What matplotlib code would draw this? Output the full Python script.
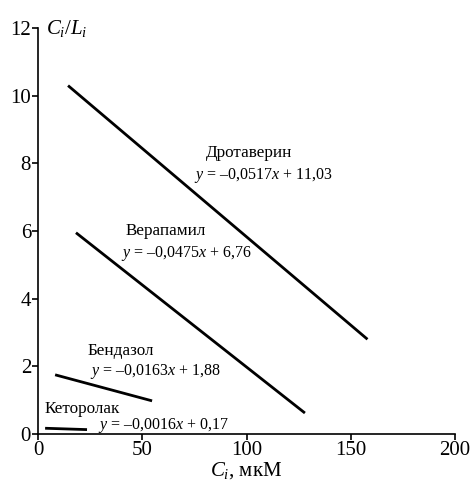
import matplotlib
matplotlib.use('Agg')
import matplotlib.pyplot as plt

plt.rcParams['font.family'] = 'Liberation Serif'
plt.rcParams['mathtext.fontset'] = 'custom'
plt.rcParams['mathtext.rm'] = 'Liberation Serif'
plt.rcParams['mathtext.it'] = 'Liberation Serif:italic'

# названия препаратов и коэффициенты уравнений
drugs = ['Дротаверин', 'Верапамил', 'Бендазол', 'Кеторолак']
slopes = ['0,0517', '0,0475', '0,0163', '0,0016']
intercepts = ['11,03', '6,76', '1,88', '0,17']
# концы отрезков (Ci, Ci/Li)
x_start = [14.4, 18.2, 8.2, 3.4]
x_end = [158.0, 128.0, 54.7, 23.5]
y_start = [10.30, 5.95, 1.75, 0.17]
y_end = [2.80, 0.62, 0.98, 0.13]

# положения подписей (в единицах данных)
name_pos = [(80.5, 8.3), (42, 6.0), (24, 2.45), (3, 0.75)]
eq_pos = [(75, 7.65), (40, 5.35), (25, 1.85), (29, 0.25)]

fig = plt.figure(figsize=(4.77, 4.84), dpi=100)
ax = fig.add_axes([0.0797, 0.1033, 0.8743, 0.8387])

for i in range(len(drugs)):
    ax.plot([x_start[i], x_end[i]], [y_start[i], y_end[i]], color='black', lw=2.0,
            solid_capstyle='butt')
    ax.text(name_pos[i][0], name_pos[i][1], drugs[i], fontsize=12.3, va='center', ha='left')
    eq = r'$y$ = –' + slopes[i] + r'$x$ + ' + intercepts[i]
    ax.text(eq_pos[i][0], eq_pos[i][1], eq, fontsize=11.5, va='center', ha='left')

ax.set_xlim(0, 200)
ax.set_ylim(0, 12)
ax.set_xticks([0, 50, 100, 150, 200])
ax.set_yticks([0, 2, 4, 6, 8, 10, 12])
ax.spines['top'].set_visible(False)
ax.spines['right'].set_visible(False)
for s in ['left', 'bottom']:
    ax.spines[s].set_linewidth(1.2)
ax.tick_params(direction='out', length=4, width=1.2, labelsize=15, pad=1)

ax.set_xlabel(r'$C_i$, мкМ', fontsize=15, labelpad=0)
ax.text(0.02, 1.0, r'$C_i/L_i$', transform=ax.transAxes, fontsize=15, va='center', ha='left')

fig.savefig('out.png', dpi=100)
